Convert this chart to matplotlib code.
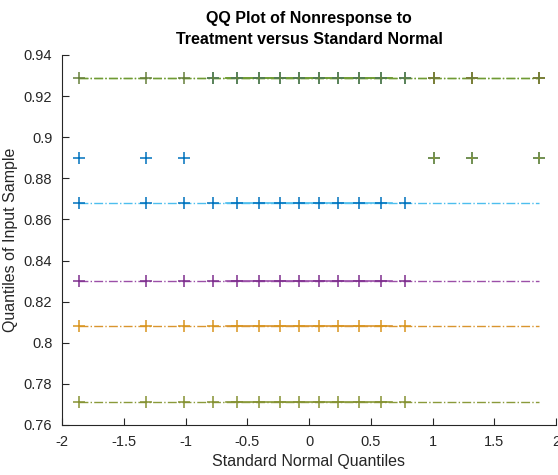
import numpy as np
import matplotlib
matplotlib.use("Agg")
import matplotlib.pyplot as plt
from statistics import NormalDist

# Sample columns (16 observations each)
col_a = [0.890]*3 + [0.929]*13
col_b = [0.868]*13 + [0.890]*3
col_d = [0.830]*13 + [0.929]*3
col_e = [0.808]*13 + [0.929]*3
col_c = [0.771]*13 + [0.890]*3
col_f = [0.929]*16
columns = [col_a, col_b, col_d, col_e, col_c, col_f]
marker_colors = ["#0072BD", "#0072BD", "#7E2F8E", "#D9951F", "#869233", "#66803A"]
line_colors = ["#77AC30", "#4DBEEE", "#9B4FA8", "#D9952F", "#8A9A3A", "#6F9A35"]

xticks = [-2, -1.5, -1, -0.5, 0, 0.5, 1, 1.5, 2]
yticks = [0.76, 0.78, 0.8, 0.82, 0.84, 0.86, 0.88, 0.9, 0.92, 0.94]

plt.rcParams['font.family'] = ['Liberation Sans', 'DejaVu Sans']
fig = plt.figure(figsize=(5.58, 4.75), dpi=100)
ax = fig.add_axes([62/558, 50/475, 494/558, 370/475])

nd = NormalDist()
for col, mc in zip(columns, marker_colors):
    y = np.sort(col)
    n = len(y)
    x = np.array([nd.inv_cdf((i - 0.5) / n) for i in range(1, n + 1)])
    ax.plot(x, y, '+', color=mc, markersize=8, markeredgewidth=1.1, zorder=3)

for col, lc in zip(columns, line_colors):
    y = np.sort(col)
    n = len(y)
    x = np.array([nd.inv_cdf((i - 0.5) / n) for i in range(1, n + 1)])
    q1y, q3y = np.percentile(y, [25, 75])
    q1x, q3x = nd.inv_cdf(0.25), nd.inv_cdf(0.75)
    slope = (q3y - q1y) / (q3x - q1x)
    ax.plot([q1x, q3x], [q1y, q3y], '-', color=lc, lw=1.2, zorder=2)
    xe = np.array([x.min(), x.max()])
    ax.plot(xe, q1y + slope * (xe - q1x), '-.', color=lc, lw=1.0, zorder=2)

ax.set_xlim(-2, 2)
ax.set_ylim(0.76, 0.94)
ax.set_xticks(xticks)
ax.set_xticklabels([f"{t:g}" for t in xticks])
ax.set_yticks(yticks)
ax.set_yticklabels([f"{t:g}" for t in yticks])
ax.tick_params(direction='in', length=5, width=0.8, colors='#262626', labelsize=10.5)
ax.tick_params(axis='x', pad=7)
ax.tick_params(axis='y', pad=7)
for s in ['top', 'right']:
    ax.spines[s].set_visible(False)
for s in ['left', 'bottom']:
    ax.spines[s].set_color('#262626')
    ax.spines[s].set_linewidth(0.8)

ax.set_xlabel("Standard Normal Quantiles", fontsize=11.5, color='#262626', labelpad=4)
ax.set_ylabel("Quantiles of Input Sample", fontsize=11.5, color='#262626', labelpad=4)
ax.set_title("QQ Plot of Nonresponse to\nTreatment versus Standard Normal",
             fontsize=11.5, fontweight='bold', color='black', pad=8, linespacing=1.5)

fig.savefig("out.png", dpi=100)
